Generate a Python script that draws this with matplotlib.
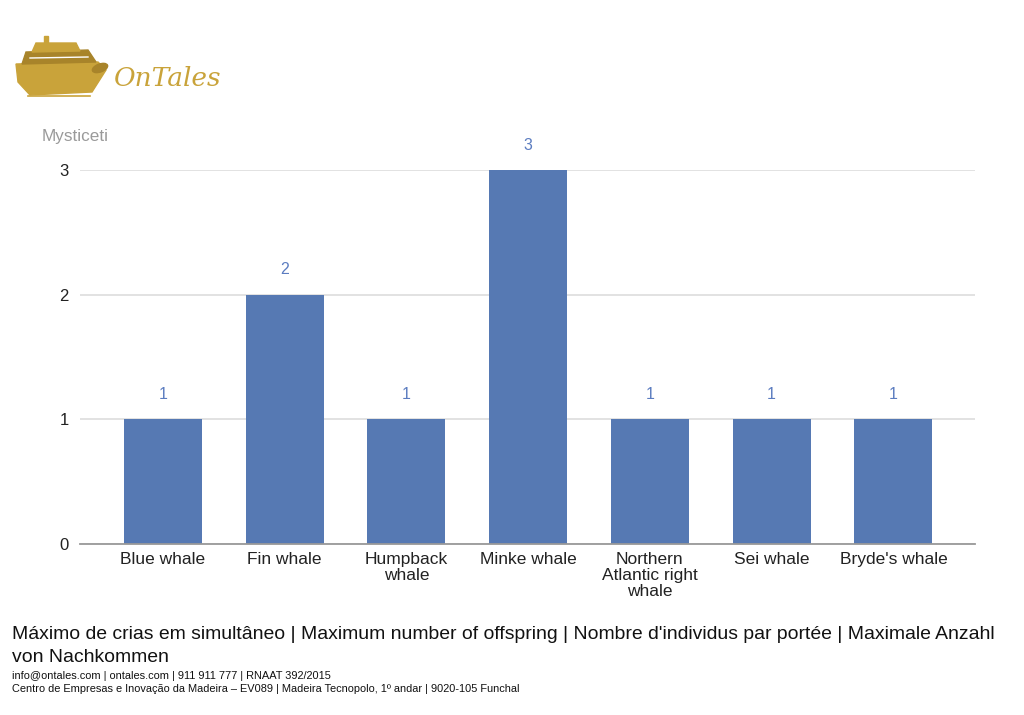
import matplotlib.pyplot as plt
from matplotlib.patches import Polygon, Rectangle, Ellipse

plt.rcParams['font.family'] = ['Liberation Sans', 'DejaVu Sans']

categories = ['Blue whale', 'Fin whale', 'Humpback\nwhale', 'Minke whale',
              'Northern\nAtlantic right\nwhale', 'Sei whale', "Bryde's whale"]
offspring = [1, 2, 1, 3, 1, 1, 1]
y_ticks = [0, 1, 2, 3]

title = ("Máximo de crias em simultâneo | Maximum number of offspring | "
         "Nombre d'individus par portée | Maximale Anzahl\nvon Nachkommen")
footer = ["info@ontales.com | ontales.com | 911 911 777 | RNAAT 392/2015",
          "Centro de Empresas e Inovação da Madeira – EV089 | Madeira Tecnopolo, 1º andar | 9020-105 Funchal"]

bar_color = '#5679b3'
label_color = '#5b7cc0'

fig = plt.figure(figsize=(10.24, 7.15), dpi=100)
W, H = 1024, 715

ax = fig.add_axes([80 / W, 1 - 544 / H, 895 / W, 374 / H])
x = list(range(len(categories)))
bars = ax.bar(x, offspring, width=0.64, color=bar_color, zorder=3)
for b, v in zip(bars, offspring):
    ax.text(b.get_x() + b.get_width() / 2, v + 0.14, str(v), ha='center',
            va='bottom', color=label_color, fontsize=11.5, clip_on=False)

ax.set_xlim(-0.68, 6.67)
ax.set_ylim(0, 3)
ax.set_yticks(y_ticks)
ax.set_yticklabels([str(t) for t in y_ticks], fontsize=12, color='#222222')
ax.set_xticks(x)
ax.set_xticklabels(categories, fontsize=12.5, color='#222222', linespacing=1.05)
ax.tick_params(axis='x', length=0, pad=6)
ax.tick_params(axis='y', length=0, pad=8)
ax.yaxis.grid(True, color='#dddddd', linewidth=1.2, zorder=0)
for s in ['top', 'right', 'left']:
    ax.spines[s].set_visible(False)
ax.spines['bottom'].set_color('#999999')
ax.spines['bottom'].set_linewidth(1.3)
ax.spines['bottom'].set_zorder(4)

fig.text(42 / W, 1 - 136 / H, 'Mysticeti', fontsize=12.3, color='#9a9a9a', va='center')

fig.text(12 / W, 1 - 626 / H, title, fontsize=13.95, color='#111111', va='top', linespacing=1.45)
fig.text(12 / W, 1 - 676 / H, footer[0], fontsize=7.9, color='#111111', va='center')
fig.text(12 / W, 1 - 689 / H, footer[1], fontsize=7.9, color='#111111', va='center')

# logo
lax = fig.add_axes([0, 1 - 110 / H, 230 / W, 110 / H])
lax.set_xlim(0, 230)
lax.set_ylim(110, 0)
lax.axis('off')
gold = '#c9a33a'
gold_dark = '#a8842a'
lax.add_patch(Polygon([(16, 64), (98, 62), (106, 70), (92, 92), (30, 95), (18, 82)],
                      closed=True, color=gold))
lax.add_patch(Polygon([(26, 52), (88, 50), (96, 62), (22, 64)], closed=True, color=gold_dark))
lax.add_patch(Polygon([(36, 43), (76, 43), (80, 51), (32, 52)], closed=True, color=gold))
lax.add_patch(Rectangle((44, 36), 4, 7, color=gold))
lax.add_patch(Ellipse((100, 68), 16, 8, angle=-20, color=gold_dark))
lax.plot([30, 88], [58, 57], color='white', lw=1)
lax.plot([28, 90], [96, 96], color=gold, lw=1.2)
lax.text(114, 78, 'OnTales', fontsize=19, color=gold, family='DejaVu Serif',
         style='italic', va='center', ha='left')

fig.savefig('out.png', dpi=100)
